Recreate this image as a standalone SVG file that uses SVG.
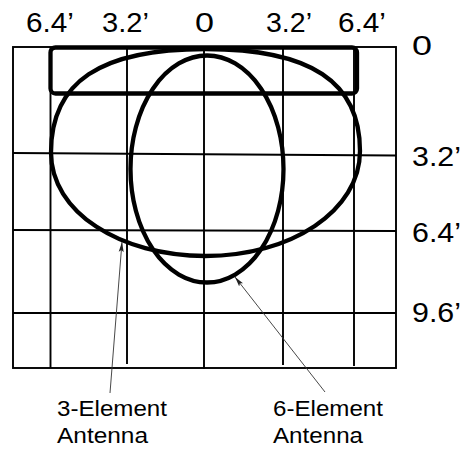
<svg xmlns="http://www.w3.org/2000/svg" width="475" height="449" viewBox="0 0 475 449">
  <style>
    .grid { stroke: #000; stroke-width: 1.9; fill: none; }
    .pattern { stroke: #000; stroke-width: 4.3; fill: none; }
    .lead { stroke: #333; stroke-width: 0.9; fill: none; }
    .lbl { font-family: "Liberation Sans", Arial, Helvetica, sans-serif; fill: #000; }
    .axis { font-size: 27px; }
    .cap { font-size: 22.5px; }
  </style>
  <defs>
    <marker id="arrow" viewBox="0 0 10 6" refX="10" refY="3" markerWidth="10" markerHeight="6" markerUnits="userSpaceOnUse" orient="auto">
      <path d="M0,0.5 L10,3 L0,5.5 L2,3 z" fill="#222"/>
    </marker>
  </defs>

  <g id="grid">
    <rect class="grid" x="13" y="47" width="383" height="321"/>
    <line class="grid" x1="50.5" y1="47" x2="50.5" y2="368"/>
    <line class="grid" x1="127" y1="47" x2="127" y2="364"/>
    <line class="grid" x1="204" y1="47" x2="204" y2="369"/>
    <line class="grid" x1="283" y1="47" x2="283" y2="365"/>
    <line class="grid" x1="354" y1="47" x2="354" y2="366"/>
    <line class="grid" x1="13" y1="153" x2="396" y2="155.5"/>
    <line class="grid" x1="13" y1="230" x2="396" y2="231"/>
    <line class="grid" x1="13" y1="313" x2="396" y2="313"/>
  </g>

  <g id="antenna-boom">
    <rect class="pattern" x="50.5" y="47.5" width="306.5" height="46" rx="5"/>
  </g>

  <g id="pattern-3-element">
    <path class="pattern" d="M51,152.5 C51,82 100,49 205.5,49 C311,49 360,82 360,151 C360,211 291,256 205.5,256 C120,256 51,212 51,152.5 Z"/>
  </g>

  <g id="pattern-6-element">
    <ellipse class="pattern" cx="207" cy="169" rx="76.5" ry="113.5"/>
  </g>

  <g id="connectors">
    <line class="lead" x1="110" y1="393" x2="122" y2="242" marker-end="url(#arrow)"/>
    <line class="lead" x1="325" y1="392" x2="235" y2="277" marker-end="url(#arrow)"/>
  </g>

  <g id="top-axis" class="lbl axis">
    <text x="26" y="31.5" textLength="48" lengthAdjust="spacingAndGlyphs">6.4’</text>
    <text x="102" y="31.5" textLength="47" lengthAdjust="spacingAndGlyphs">3.2’</text>
    <text x="195" y="31.5" textLength="19" lengthAdjust="spacingAndGlyphs">0</text>
    <text x="266" y="31.5" textLength="46" lengthAdjust="spacingAndGlyphs">3.2’</text>
    <text x="338" y="31.5" textLength="48" lengthAdjust="spacingAndGlyphs">6.4’</text>
  </g>

  <g id="right-axis" class="lbl axis">
    <text x="412" y="54.5" textLength="20" lengthAdjust="spacingAndGlyphs">0</text>
    <text x="412" y="165.5" textLength="49" lengthAdjust="spacingAndGlyphs">3.2’</text>
    <text x="412" y="241.5" textLength="49" lengthAdjust="spacingAndGlyphs">6.4’</text>
    <text x="412" y="321.5" textLength="49" lengthAdjust="spacingAndGlyphs">9.6’</text>
  </g>

  <g id="label-3-element" class="lbl cap">
    <text x="57" y="416" textLength="110" lengthAdjust="spacingAndGlyphs">3-Element</text>
    <text x="57" y="443" textLength="91" lengthAdjust="spacingAndGlyphs">Antenna</text>
  </g>

  <g id="label-6-element" class="lbl cap">
    <text x="273" y="416" textLength="110" lengthAdjust="spacingAndGlyphs">6-Element</text>
    <text x="273" y="443" textLength="90" lengthAdjust="spacingAndGlyphs">Antenna</text>
  </g>
</svg>
